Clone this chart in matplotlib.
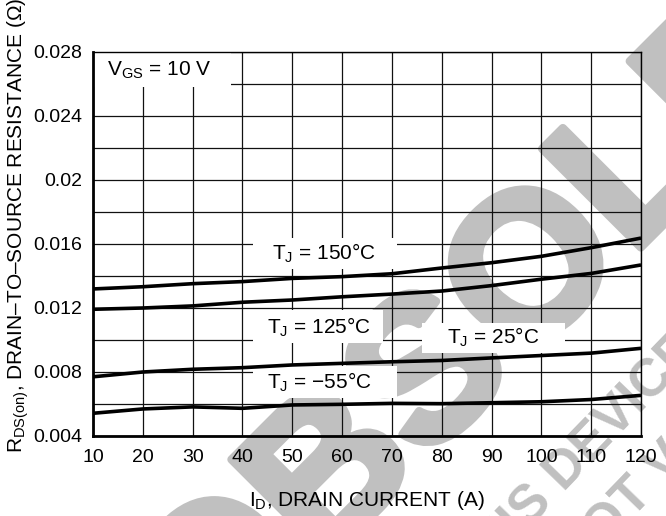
import matplotlib
matplotlib.use('Agg')
import matplotlib.pyplot as plt
import matplotlib.patheffects as pe
from matplotlib.patches import Rectangle

# drain current (A)
current = [10, 20, 30, 40, 50, 60, 70, 80, 90, 100, 110, 120]

# R_DS(on) (ohm) for each junction temperature
r_150 = [0.01319, 0.01333, 0.01352, 0.01365, 0.01385, 0.01396, 0.01414, 0.0145, 0.01483, 0.01523, 0.01577, 0.01637]
r_125 = [0.01192, 0.0120, 0.01213, 0.01236, 0.0125, 0.0127, 0.01287, 0.01306, 0.0134, 0.0138, 0.01416, 0.01469]
r_25 = [0.0077, 0.0080, 0.00817, 0.00827, 0.00844, 0.00854, 0.00864, 0.00872, 0.00888, 0.00903, 0.00918, 0.00948]
r_m55 = [0.00542, 0.00569, 0.00582, 0.00573, 0.00594, 0.00598, 0.00604, 0.00602, 0.00608, 0.00614, 0.00628, 0.00654]

x_ticks = [10, 20, 30, 40, 50, 60, 70, 80, 90, 100, 110, 120]
y_ticks = [0.004, 0.008, 0.012, 0.016, 0.02, 0.024, 0.028]
y_tick_labels = ['0.004', '0.008', '0.012', '0.016', '0.02', '0.024', '0.028']
y_grid = [0.006, 0.010, 0.014, 0.018, 0.022, 0.026]

plt.rcParams['font.family'] = ['Liberation Sans', 'DejaVu Sans']
plt.rcParams['mathtext.fontset'] = 'custom'
plt.rcParams['mathtext.rm'] = 'Liberation Sans'
plt.rcParams['mathtext.it'] = 'Liberation Sans'

W, H = 666, 516
fig = plt.figure(figsize=(W / 100, H / 100), dpi=100)
ax = fig.add_axes([93 / W, 1 - 436 / H, (641 - 93) / W, (436 - 52) / H])
ax.set_facecolor('none')


def fx(px):
    return px / W


def fy(py):
    return 1 - py / H


# watermark, drawn behind the axes
wm = '#c0c0c0'
thick = [pe.withStroke(linewidth=6, foreground=wm)]
fig.text(fx(566), fy(248), 'OBSOLETE', fontsize=146, fontweight='bold', color=wm,
         rotation=45, rotation_mode='anchor', ha='center', va='center', zorder=-5,
         path_effects=thick)
fig.text(fx(690), fy(342), 'THIS DEVICE', fontsize=38, fontweight='bold', color=wm,
         rotation=46, rotation_mode='anchor', ha='right', va='center', zorder=-5)
fig.text(fx(762), fy(365), 'IS NOT VALID', fontsize=38, fontweight='bold', color=wm,
         rotation=46, rotation_mode='anchor', ha='right', va='center', zorder=-5)

ax.set_xlim(10, 120)
ax.set_ylim(0.004, 0.028)
ax.set_xticks(x_ticks)
ax.set_yticks(y_ticks)
ax.set_yticklabels(y_tick_labels)
ax.set_yticks(y_grid, minor=True)
ax.grid(True, which='both', color='#111111', linewidth=0.9, zorder=1)
ax.tick_params(which='both', length=0)
ax.tick_params(axis='y', pad=8, labelsize=14)
ax.tick_params(axis='x', pad=9, labelsize=14)
ax.set_axisbelow(True)

for side in ['left', 'bottom']:
    ax.spines[side].set_linewidth(2.0)
for side in ['top', 'right']:
    ax.spines[side].set_linewidth(1.0)


def px2x(px):
    return 10 + (px - 93) / (548 / 110)


def py2y(py):
    return 0.004 + (436 - py) / 16000


# white label boxes (pixel extents from the figure)
boxes = [(93, 231, 52, 87), (253, 397, 238, 269), (253, 383, 310, 343),
         (422, 565, 323, 353), (253, 397, 366, 398)]
for x0, x1, y0, y1 in boxes:
    ax.add_patch(Rectangle((px2x(x0), py2y(y1)), px2x(x1) - px2x(x0), py2y(y0) - py2y(y1),
                           facecolor='white', edgecolor='none', zorder=2))

for r in [r_150, r_125, r_25, r_m55]:
    ax.plot(current, r, color='black', linewidth=2.6, zorder=4, solid_capstyle='butt')

ax.text(px2x(107), py2y(70), r'V$_{\mathrm{GS}}$ = 10 V', fontsize=15, va='center', zorder=5)
ax.text(px2x(272), py2y(253), r'T$_{\mathrm{J}}$ = 150°C', fontsize=15, va='center', zorder=5)
ax.text(px2x(267), py2y(327), r'T$_{\mathrm{J}}$ = 125°C', fontsize=15, va='center', zorder=5)
ax.text(px2x(447), py2y(337), r'T$_{\mathrm{J}}$ = 25°C', fontsize=15, va='center', zorder=5)
ax.text(px2x(267), py2y(382), r'T$_{\mathrm{J}}$ = −55°C', fontsize=15, va='center', zorder=5)

fig.text(fx(367), fy(500), r'I$_{\mathrm{D}}$, DRAIN CURRENT (A)', fontsize=15,
         ha='center', va='center')
fig.text(fx(18), fy(225), r'R$_{\mathrm{DS(on)}}$, DRAIN–TO–SOURCE RESISTANCE (Ω)',
         fontsize=15, rotation=90, ha='center', va='center')

fig.savefig('out.png', dpi=100)
